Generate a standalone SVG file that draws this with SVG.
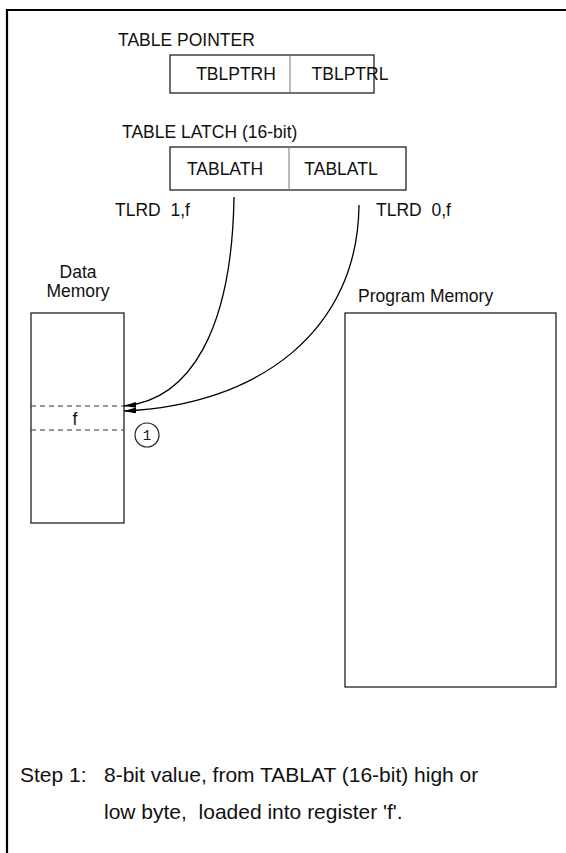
<svg xmlns="http://www.w3.org/2000/svg" width="566" height="853" viewBox="0 0 566 853">
<defs>
<style>
text{font-family:"Liberation Sans",Arial,sans-serif;fill:#111;}
.lbl{font-size:17.5px;}
.box{fill:#fff;stroke:#222;stroke-width:1.3;}
.div{stroke:#777;stroke-width:1;}
.dash{stroke:#333;stroke-width:1.2;stroke-dasharray:5 4;fill:none;}
.conn{fill:none;stroke:#000;stroke-width:1.3;}
.step{font-size:21px;}
</style>
<marker id="arr" viewBox="0 0 12 6" refX="12" refY="3" markerWidth="12" markerHeight="6" markerUnits="userSpaceOnUse" orient="auto">
<path d="M0,0 L12,3 L0,6 Z" fill="#000"/>
</marker>
</defs>
<rect width="566" height="853" fill="#fff"/>
<g id="frame">
<line x1="7" y1="10" x2="566" y2="10" stroke="#000" stroke-width="2.2"/>
<line x1="7" y1="9" x2="7" y2="853" stroke="#000" stroke-width="2.2"/>
</g>
<g id="table-pointer">
<text class="lbl" x="118" y="46">TABLE POINTER</text>
<rect class="box" x="170" y="55" width="204" height="38"/>
<line class="div" x1="290" y1="55" x2="290" y2="93"/>
<text class="lbl" x="236" y="80" text-anchor="middle">TBLPTRH</text>
<text class="lbl" x="350" y="80" text-anchor="middle">TBLPTRL</text>
</g>
<g id="table-latch">
<text class="lbl" x="122" y="138">TABLE LATCH (16-bit)</text>
<rect class="box" x="170" y="147" width="236" height="43"/>
<line class="div" x1="289" y1="147" x2="289" y2="190"/>
<text class="lbl" x="225" y="175" text-anchor="middle">TABLATH</text>
<text class="lbl" x="341" y="175" text-anchor="middle">TABLATL</text>
</g>
<g id="labels">
<text class="lbl" x="115" y="216" xml:space="preserve">TLRD  1,f</text>
<text class="lbl" x="376" y="216" xml:space="preserve">TLRD  0,f</text>
</g>
<g id="data-memory">
<text class="lbl" x="78" y="278" text-anchor="middle">Data</text>
<text class="lbl" x="78" y="297" text-anchor="middle">Memory</text>
<rect class="box" x="31" y="313" width="93" height="210"/>
<line class="dash" x1="31" y1="406" x2="124" y2="406"/>
<line class="dash" x1="31" y1="430" x2="124" y2="430"/>
<text class="lbl" x="75" y="425" text-anchor="middle">f</text>
</g>
<g id="step-marker">
<circle cx="147" cy="435" r="12" fill="none" stroke="#222" stroke-width="1.2"/>
<text x="147" y="440" text-anchor="middle" style="font-family:'Liberation Mono','DejaVu Sans Mono',monospace;font-size:14px;">1</text>
</g>
<g id="program-memory">
<text class="lbl" x="358" y="302">Program Memory</text>
<rect class="box" x="345" y="313" width="211" height="374"/>
</g>
<g id="connectors">
<path class="conn" d="M234,197 C232,330 190,400 124,406" marker-end="url(#arr)"/>
<path class="conn" d="M359,205 C358,330 260,405 124,411" marker-end="url(#arr)"/>
</g>
<g id="caption">
<text class="step" x="20" y="782">Step 1:</text>
<text class="step" x="104" y="782">8-bit value, from TABLAT (16-bit) high or</text>
<text class="step" x="104" y="819" xml:space="preserve">low byte,  loaded into register 'f'.</text>
</g>
</svg>
